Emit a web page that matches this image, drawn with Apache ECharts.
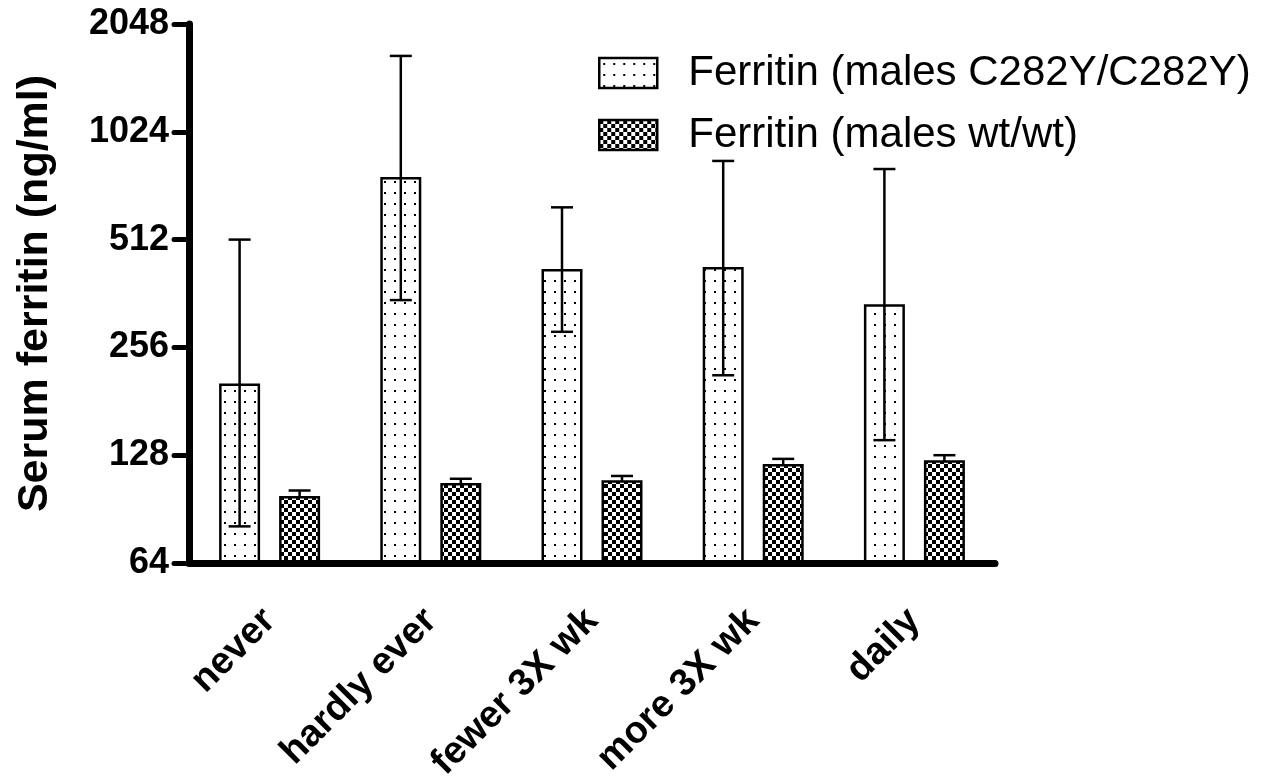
<!DOCTYPE html>
<html>
<head>
<meta charset="utf-8">
<script src="https://cdn.jsdelivr.net/npm/echarts@6/dist/echarts.min.js"></script>
<style>
html, body { margin: 0; padding: 0; background: #fff; }
#chart { width: 1287px; height: 782px; }
</style>
</head>
<body>
<div id="chart"></div>
<script>
// data (ng/ml, log2 axis)
var categories = ['never', 'hardly ever', 'fewer 3X wk', 'more 3X wk', 'daily'];
var yTicks = [64, 128, 256, 512, 1024, 2048];
var seriesNames = ['Ferritin (males C282Y/C282Y)', 'Ferritin (males wt/wt)'];
var c282yMean = [203, 766, 424, 429, 338];
var c282yLow = [81, 347, 283, 214, 141];
var c282yHigh = [512, 1668, 630, 849, 806];
var wtMean = [98.5, 107, 109, 121, 124];
var wtLow = [95, 104, 106, 117, 120];
var wtHigh = [102, 110, 112, 125, 128];

var FONT = '"Liberation Sans", Arial, sans-serif';
var BAR_W = 41;
var BAR_GAP = 19;

function makeDots() {
    var c = document.createElement('canvas');
    c.width = 10;
    c.height = 11;
    var ctx = c.getContext('2d');
    ctx.fillStyle = '#fff';
    ctx.fillRect(0, 0, 10, 11);
    ctx.fillStyle = '#000';
    ctx.fillRect(4, 5, 2, 2);
    return c;
}

function makeChecker() {
    var c = document.createElement('canvas');
    c.width = 8;
    c.height = 8;
    var ctx = c.getContext('2d');
    ctx.fillStyle = '#fff';
    ctx.fillRect(0, 0, 8, 8);
    ctx.fillStyle = '#000';
    ctx.fillRect(0, 0, 4, 4);
    ctx.fillRect(4, 4, 4, 4);
    return c;
}

function errorData(low, high, mean) {
    return mean.map(function(m, i) {
        return [i, m, low[i], high[i]];
    });
}

function errorRender(offset) {
    return function(params, api) {
        var lo = api.coord([api.value(0), api.value(2)]);
        var hi = api.coord([api.value(0), api.value(3)]);
        var cx = lo[0] + offset;
        var half = 11;
        var st = { stroke: '#000', lineWidth: 2.5 };
        return {
            type: 'group',
            children: [
                { type: 'line', shape: { x1: cx, y1: lo[1], x2: cx, y2: hi[1] }, style: st },
                { type: 'line', shape: { x1: cx - half, y1: hi[1], x2: cx + half, y2: hi[1] }, style: st },
                { type: 'line', shape: { x1: cx - half, y1: lo[1], x2: cx + half, y2: lo[1] }, style: st }
            ]
        };
    };
}

function renderFerritin() {
    var dom = document.getElementById('chart');
    var myChart = echarts.init(dom);
    var off = (BAR_W + BAR_GAP) / 2;

    var option = {
        backgroundColor: '#FFFFFF',
        animation: false,
        grid: {
            left: 189,
            right: 292,
            top: 24,
            bottom: 219,
            outerBoundsMode: 'none'
        },
        legend: {
            orient: 'vertical',
            left: 593,
            top: 47,
            icon: 'rect',
            itemWidth: 58,
            itemHeight: 30,
            itemGap: 20,
            data: seriesNames,
            textStyle: {
                fontSize: 42,
                color: '#000',
                fontFamily: FONT,
                padding: [0, 0, 0, 26]
            },
            itemStyle: {
                borderColor: '#000',
                borderWidth: 2.5
            }
        },
        xAxis: {
            type: 'category',
            data: categories,
            z: 10,
            axisLine: {
                lineStyle: { color: '#000', width: 7, cap: 'round' }
            },
            axisTick: {
                alignWithLabel: true,
                length: 17,
                lineStyle: { color: '#000', width: 6, cap: 'round' }
            },
            axisLabel: {
                rotate: 45,
                margin: 52,
                fontSize: 38,
                fontWeight: 'bold',
                color: '#000',
                fontFamily: FONT
            }
        },
        yAxis: {
            type: 'log',
            logBase: 2,
            min: yTicks[0],
            max: yTicks[yTicks.length - 1],
            splitNumber: yTicks.length - 1,
            z: 10,
            name: 'Serum ferritin (ng/ml)',
            nameLocation: 'middle',
            nameGap: 132,
            nameTextStyle: {
                fontSize: 43,
                fontWeight: 'bold',
                color: '#000',
                fontFamily: FONT
            },
            splitLine: { show: false },
            axisLine: {
                show: true,
                lineStyle: { color: '#000', width: 7, cap: 'round' }
            },
            axisTick: {
                show: true,
                length: 15,
                lineStyle: { color: '#000', width: 5, cap: 'round' }
            },
            axisLabel: {
                margin: 20,
                fontSize: 36,
                fontWeight: 'bold',
                color: '#000',
                fontFamily: FONT,
                formatter: function(v) { return Math.round(v); }
            }
        },
        series: [
            {
                type: 'custom',
                name: 'wt err',
                z: 1,
                renderItem: errorRender(off),
                encode: { x: 0, y: 1 },
                data: errorData(wtLow, wtHigh, wtMean)
            },
            {
                type: 'bar',
                name: seriesNames[0],
                barWidth: BAR_W,
                barGap: (BAR_GAP / BAR_W * 100) + '%',
                startValue: 64,
                itemStyle: {
                    color: { image: makeDots(), repeat: 'repeat' },
                    borderColor: '#000',
                    borderWidth: 2.5
                },
                data: c282yMean
            },
            {
                type: 'bar',
                name: seriesNames[1],
                barWidth: BAR_W,
                startValue: 64,
                itemStyle: {
                    color: { image: makeChecker(), repeat: 'repeat' },
                    borderColor: '#000',
                    borderWidth: 2.5
                },
                data: wtMean
            },
            {
                type: 'custom',
                name: 'C282Y err',
                z: 3,
                renderItem: errorRender(-off),
                encode: { x: 0, y: 1 },
                data: errorData(c282yLow, c282yHigh, c282yMean)
            }
        ]
    };

    if (option && typeof option === 'object') {
        myChart.setOption(option);
    }

    window.onresize = function() {
        myChart.resize();
    };
}
renderFerritin();
</script>
</body>
</html>
